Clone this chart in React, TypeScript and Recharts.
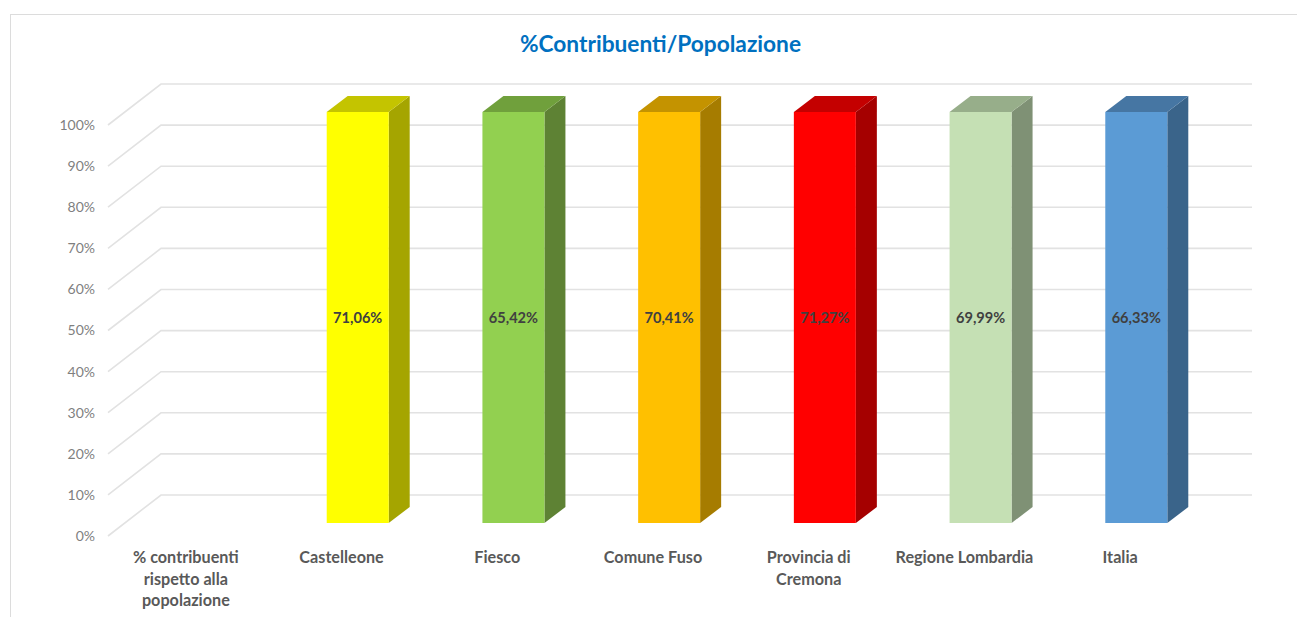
import { Bar, BarChart, CartesianGrid, LabelList, XAxis, YAxis } from "recharts";

const categories = [
  "% contribuenti\nrispetto alla\npopolazione",
  "Castelleone",
  "Fiesco",
  "Comune Fuso",
  "Provincia di\nCremona",
  "Regione Lombardia",
  "Italia",
];
// 100% stacked single series: every column fills the axis, the label carries the real value
const columnShare = [null, 100, 100, 100, 100, 100, 100];
const percentages = [null, 71.06, 65.42, 70.41, 71.27, 69.99, 66.33];
const yTicks = [0, 10, 20, 30, 40, 50, 60, 70, 80, 90, 100];

const frontColors = ["#ffffff", "#ffff00", "#92d050", "#ffc000", "#ff0000", "#c5e0b4", "#5b9bd5"];
const sideColors = ["#ffffff", "#a5a500", "#5e8234", "#a67c00", "#a50000", "#7f9175", "#3a648a"];
const topColors = ["#ffffff", "#c4c400", "#70a03c", "#c49300", "#c40000", "#97ae8a", "#4676a3"];

const chartData = categories.map((name, i) => ({ name, share: columnShare[i], pct: percentages[i] }));

const FONT = "Lato, Carlito, sans-serif";
const GRID_COLOR = "#e2e2e2";

// floor offsets of the fake 3D box
const WALL_DX = 53;
const WALL_DY = 41;
const BAR_DX = 16;
const BAR_DY = 13;
const DEPTH_DX = 21;
const DEPTH_DY = 16;
const WALL_RIGHT = 1252;

function WallLine(props: any) {
  const { x1, y1 } = props;
  return (
    <path
      key={props.key ?? y1}
      d={`M${x1},${y1} L${x1 + WALL_DX},${y1 - WALL_DY} L${WALL_RIGHT},${y1 - WALL_DY}`}
      fill="none"
      stroke={GRID_COLOR}
      strokeWidth={1.6}
    />
  );
}

function BoxColumn(props: any) {
  const { x, y, width, height, payload } = props;
  if (!height) return null;
  // null rows are dropped by recharts, so the index prop is not the category index
  const idx = categories.indexOf(payload.name);
  const left = x + BAR_DX;
  const right = left + width;
  const top = y - BAR_DY;
  const bottom = top + height;
  return (
    <g>
      <polygon
        points={`${right},${top} ${right + DEPTH_DX},${top - DEPTH_DY} ${right + DEPTH_DX},${bottom - DEPTH_DY} ${right},${bottom}`}
        fill={sideColors[idx]}
      />
      <polygon
        points={`${left},${top} ${left + DEPTH_DX},${top - DEPTH_DY} ${right + DEPTH_DX},${top - DEPTH_DY} ${right},${top}`}
        fill={topColors[idx]}
      />
      <rect x={left} y={top} width={width} height={height} fill={frontColors[idx]} />
    </g>
  );
}

function ColumnLabel(props: any) {
  const { x, y, width, height, value } = props;
  if (value == null) return null;
  return (
    <text
      x={x + BAR_DX + width / 2}
      y={y - BAR_DY + height / 2}
      textAnchor="middle"
      dominantBaseline="central"
      fontFamily={FONT}
      fontSize={14.6}
      fontWeight={700}
      fill="#404040"
    >
      {value.toFixed(2).replace(".", ",") + "%"}
    </text>
  );
}

function CategoryTick(props: any) {
  const { x, payload } = props;
  const lines = String(payload.value).split("\n");
  return (
    <text textAnchor="middle" fontFamily={FONT} fontSize={16.2} fontWeight={700} fill="#595959">
      {lines.map((line, i) => (
        <tspan key={line} x={x} y={563 + i * 21.5}>
          {line}
        </tspan>
      ))}
    </text>
  );
}

export default function App() {
  return (
    <div style={{ position: "absolute", left: 0, top: 0, width: 1297, height: 617, background: "#fff", overflow: "hidden" }}>
      <div
        style={{
          position: "absolute",
          left: 10,
          top: 14,
          width: 1300,
          height: 620,
          border: "1.5px solid #dcdcdc",
        }}
      />
      <div
        style={{
          position: "absolute",
          left: 0,
          width: 1321,
          top: 30,
          textAlign: "center",
          fontFamily: FONT,
          fontSize: 22.7,
          fontWeight: 700,
          color: "#0070c0",
        }}
      >
        %Contribuenti/Popolazione
      </div>
      <div style={{ position: "absolute", left: 0, top: 0 }}>
        <BarChart
          width={1297}
          height={617}
          data={chartData}
          barSize={62}
          margin={{ top: 125, right: 99, bottom: 0, left: 0 }}
        >
          <CartesianGrid vertical={false} horizontal={WallLine} />
          <XAxis dataKey="name" height={81} axisLine={false} tickLine={false} interval={0} tick={CategoryTick} />
          <YAxis
            width={108}
            domain={[0, 100]}
            ticks={yTicks}
            axisLine={false}
            tickLine={false}
            tickMargin={7}
            tickFormatter={(v: number) => `${v}%`}
            tick={{ fill: "#7f7f7f", fontFamily: FONT, fontSize: 14 }}
          />
          <Bar dataKey="share" shape={BoxColumn} isAnimationActive={false}>
            <LabelList dataKey="pct" content={ColumnLabel} />
          </Bar>
        </BarChart>
      </div>
    </div>
  );
}
